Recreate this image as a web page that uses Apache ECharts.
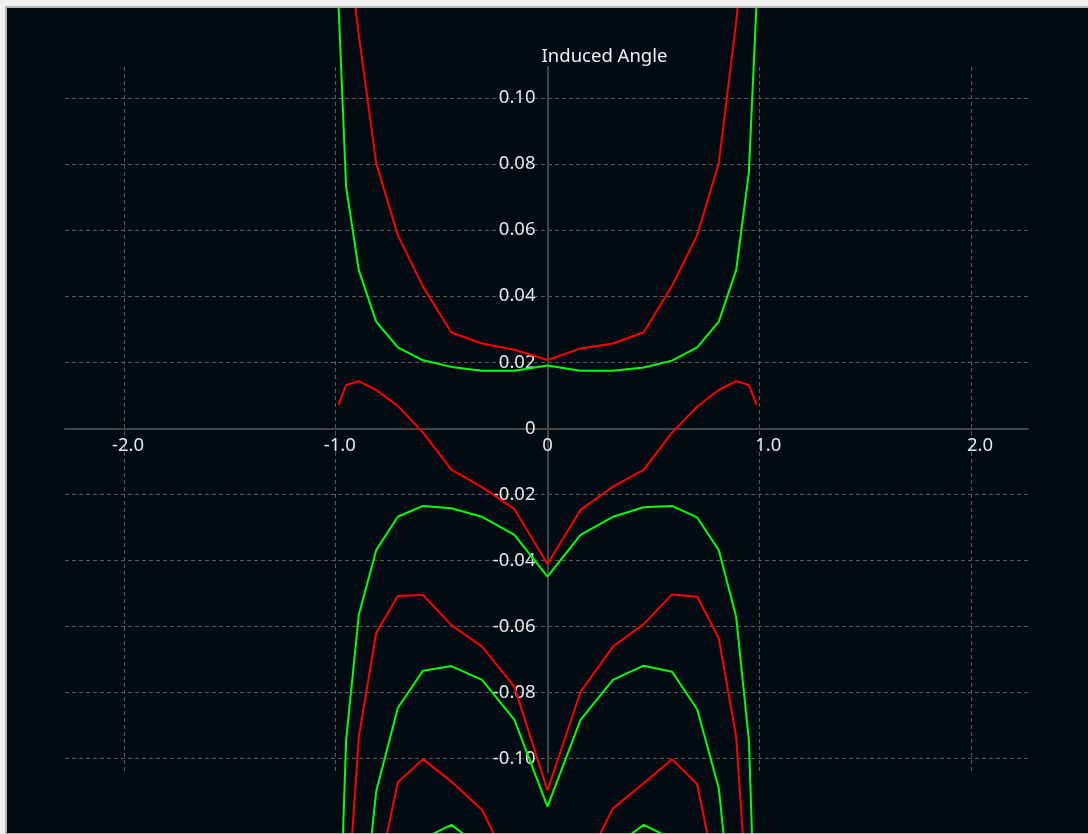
<!DOCTYPE html>
<html><head><meta charset="utf-8">
<script src="https://cdn.jsdelivr.net/npm/echarts@6/dist/echarts.min.js"></script>
<style>
html,body{margin:0;padding:0;background:#efefef;width:1088px;height:834px;overflow:hidden;}
#frame{position:absolute;left:5px;top:6px;width:1083px;height:828px;background:#b4b4b4;}
#chart{position:absolute;left:7px;top:8px;width:1081px;height:825px;background:#020a12;}
</style></head>
<body>
<div id="frame"></div>
<div id="chart"></div>
<script>
// span positions (x) shared by all curves
const xs = [-0.988,-0.951,-0.891,-0.809,-0.707,-0.588,-0.454,-0.309,-0.156,0,0.156,0.309,0.454,0.588,0.707,0.809,0.891,0.951,0.988];
const xTicks = [-2,-1,0,1,2];
const yTicks = [-0.1,-0.08,-0.06,-0.04,-0.02,0,0.02,0.04,0.06,0.08,0.1];
const yAxisName = 'Induced Angle';

const green1 = [0.130,0.0731,0.0479,0.0323,0.0245,0.0206,0.0186,0.0174,0.0174,0.0190,0.0174,0.0174,0.0184,0.0205,0.0245,0.0323,0.0479,0.0775,0.130];
const red1   = [0.40,0.150,0.119,0.0803,0.0585,0.0429,0.0290,0.0257,0.0238,0.0207,0.0242,0.0257,0.0291,0.0431,0.0585,0.0803,0.123,0.16,0.40];
const red2   = [0.0071,0.0131,0.0143,0.0116,0.0068,-0.0013,-0.0125,-0.0178,-0.0245,-0.0411,-0.0247,-0.0177,-0.0126,-0.0013,0.0066,0.0116,0.0143,0.0131,0.0071];
const green2 = [-0.165,-0.0944,-0.0565,-0.0369,-0.0268,-0.0235,-0.0242,-0.0268,-0.0323,-0.0449,-0.0323,-0.0268,-0.0239,-0.0235,-0.0270,-0.0369,-0.0571,-0.0944,-0.165];
const red3   = [-0.25,-0.150,-0.0935,-0.0620,-0.0508,-0.0505,-0.0596,-0.0661,-0.0783,-0.1097,-0.0798,-0.0661,-0.0593,-0.0503,-0.0510,-0.0636,-0.0934,-0.150,-0.25];
const green3 = [-0.40,-0.25,-0.160,-0.1100,-0.0847,-0.0734,-0.0720,-0.0762,-0.0883,-0.1146,-0.0883,-0.0762,-0.0719,-0.0737,-0.0851,-0.1090,-0.160,-0.25,-0.40];
const red4   = [-0.50,-0.30,-0.20,-0.1385,-0.1072,-0.1002,-0.1070,-0.1156,-0.1356,-0.175,-0.1346,-0.1151,-0.1075,-0.1002,-0.1078,-0.140,-0.20,-0.30,-0.50];
const green4 = [-0.60,-0.40,-0.25,-0.17,-0.14,-0.1243,-0.1201,-0.1270,-0.145,-0.19,-0.145,-0.1270,-0.1201,-0.1243,-0.14,-0.17,-0.25,-0.40,-0.60];

const RED = '#ff0000', GREEN = '#00ff00';
const curves = [
  {ys: red4, c: RED}, {ys: green4, c: GREEN},
  {ys: red3, c: RED}, {ys: green3, c: GREEN},
  {ys: green2, c: GREEN}, {ys: red2, c: RED},
  {ys: green1, c: GREEN}, {ys: red1, c: RED}
];

const chart = echarts.init(document.getElementById('chart'), null, {renderer: 'canvas'});
const txt = '#e6e6e6';
const FONT = 'Noto Sans';
const FS = 18.5;
chart.setOption({
  backgroundColor: '#020a12',
  animation: false,
  grid: {left: 58, top: 59, right: 60, bottom: 61},
  xAxis: {
    type: 'value', min: -2.2786, max: 2.2692,
    position: 'bottom', offset: -343.7,
    axisLine: {onZero: false, lineStyle: {color: '#454545', width: 2}},
    axisTick: {show: false, customValues: xTicks},
    axisLabel: {
      customValues: xTicks, margin: 8,
      formatter: v => {
        if (Math.abs(v) < 1e-9) return '{z|0}';
        return (v < 0 ? '{n|' : '{p|') + v.toFixed(1) + '}';
      },
      rich: {
        z: {color: txt, fontSize: FS, fontFamily: FONT},
        n: {color: txt, fontSize: FS, fontFamily: FONT, padding: [0,0,0,8]},
        p: {color: txt, fontSize: FS, fontFamily: FONT, padding: [0,0,0,18]}
      }
    },
    splitLine: {show: true, lineStyle: {color: '#5a5a5a', width: 1, type: [4, 3]}}
  },
  yAxis: {
    type: 'value', min: -0.10409, max: 0.10942,
    position: 'left', offset: -482.5,
    name: yAxisName, nameLocation: 'end', nameGap: 1,
    nameTextStyle: {color: '#f2f2f2', fontSize: FS, fontFamily: FONT, align: 'center', verticalAlign: 'bottom', padding: [0,0,0,114]},
    axisLine: {onZero: false, lineStyle: {color: '#454545', width: 2}},
    axisTick: {show: false, customValues: yTicks},
    axisLabel: {
      customValues: yTicks, margin: 12, color: txt, fontSize: FS, fontFamily: FONT,
      formatter: v => Math.abs(v) < 1e-9 ? '0' : v.toFixed(2)
    },
    splitLine: {show: true, lineStyle: {color: '#5a5a5a', width: 1, type: [4, 3]}}
  },
  series: curves.map(cv => ({
    type: 'line', clip: false, symbol: 'none', silent: true,
    data: xs.map((x, i) => [x, cv.ys[i]]),
    lineStyle: {color: cv.c, width: 2}
  }))
});
</script>
</body></html>
